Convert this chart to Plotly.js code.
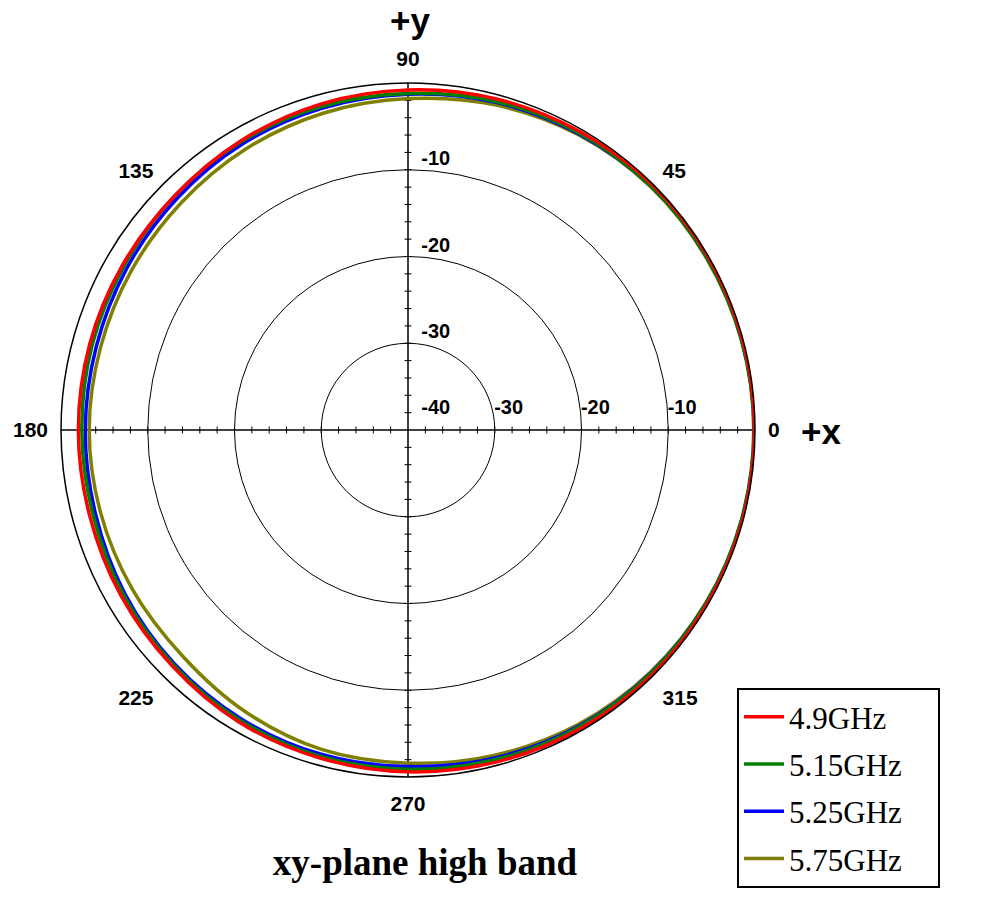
<!DOCTYPE html>
<html>
<head>
<meta charset="utf-8">
<script src="https://cdn.plot.ly/plotly-3.0.1.min.js"></script>
<style>html,body{margin:0;padding:0;background:#fff;}#chart{width:1000px;height:905px;}</style>
</head>
<body>
<div id="chart"></div>
<script>
// ---- data (dB vs. azimuth angle in degrees) ----
const angleDeg = [0,15,30,45,60,75,90,105,120,135,150,165,180,195,210,225,240,255,270,285,300,315,330,345];
const seriesNames = ["4.9GHz","5.15GHz","5.25GHz","5.75GHz"];
const seriesColors = ["#ff0000","#008000","#0000ff","#808000"];
const gain_4_9  = [-0.05,-0.05,-0.05,-0.1,-0.3,-0.5,-0.8,-1.1,-1.5,-1.9,-2.0,-2.0,-2.0,-2.0,-1.8,-1.55,-1.1,-0.85,-0.6,-0.4,-0.25,-0.15,-0.1,-0.05];
const gain_5_15 = [-0.1,-0.15,-0.2,-0.3,-0.5,-0.8,-1.2,-1.4,-1.6,-1.9,-2.2,-2.3,-2.4,-2.4,-2.1,-1.75,-1.35,-1.05,-0.9,-0.7,-0.5,-0.35,-0.25,-0.15];
const gain_5_25 = [-0.1,-0.15,-0.2,-0.3,-0.6,-0.9,-1.3,-1.6,-1.9,-2.3,-2.6,-2.8,-2.8,-2.7,-2.3,-1.9,-1.55,-1.3,-1.2,-0.9,-0.6,-0.4,-0.25,-0.15];
const gain_5_75 = [-0.15,-0.2,-0.3,-0.4,-0.7,-1.2,-1.8,-2.2,-2.6,-3.0,-3.2,-3.3,-3.25,-3.3,-3.3,-3.2,-2.5,-1.85,-1.6,-1.2,-0.8,-0.5,-0.3,-0.2];
const seriesValues = [gain_4_9, gain_5_15, gain_5_25, gain_5_75];

const radialRange = [-40, 0];
const ringTicks = [-30, -20, -10];
const xAxisLabelVals = [-40, -30, -20, -10];
const yAxisLabelVals = [-10, -20, -30];
const crossTickVals = [-38,-36,-34,-32,-30,-28,-26,-24,-22,-20,-18,-16,-14,-12,-10,-8,-6,-4,-2];
const angularTickVals = [0,45,90,135,180,225,270,315];
const angularTickText = ["0","45","90","135","180","225","270","315"];

const NB = "\u00a0";
function pad(n){ return NB.repeat(n); }

const traces = [];
// crosshair axes through the centre
traces.push({type:"scatterpolar", mode:"lines", r:[radialRange[1], radialRange[0], radialRange[1]], theta:[0,0,180],
  line:{color:"#000", width:1.5}, showlegend:false, hoverinfo:"skip"});
traces.push({type:"scatterpolar", mode:"lines", r:[radialRange[1], radialRange[0], radialRange[1]], theta:[90,90,270],
  line:{color:"#000", width:1.5}, showlegend:false, hoverinfo:"skip"});
// small tick marks along the crosshair
const hTheta = crossTickVals.map(()=>0).concat(crossTickVals.map(()=>180));
traces.push({type:"scatterpolar", mode:"markers", r:crossTickVals.concat(crossTickVals), theta:hTheta,
  marker:{symbol:"line-ns", size:5, line:{width:1, color:"#000"}}, showlegend:false, hoverinfo:"skip"});
const vTheta = crossTickVals.map(()=>90).concat(crossTickVals.map(()=>270));
traces.push({type:"scatterpolar", mode:"markers", r:crossTickVals.concat(crossTickVals), theta:vTheta,
  marker:{symbol:"line-ew", size:5, line:{width:1, color:"#000"}}, showlegend:false, hoverinfo:"skip"});

// data series (drawn so that 4.9GHz ends up on top)
for (let i = seriesNames.length - 1; i >= 0; i--) {
  traces.push({type:"scatterpolar", mode:"lines", name:seriesNames[i] + pad(4), legendgroup:"g"+i, legendrank:i+1,
    r: seriesValues[i].concat([seriesValues[i][0]]),
    theta: angleDeg.concat([360]),
    line:{color:seriesColors[i], width:3.5, shape:"spline"}});
}

// radial value labels along +x and +y
traces.push({type:"scatterpolar", mode:"markers+text", r:xAxisLabelVals, theta:xAxisLabelVals.map(()=>0),
  text:xAxisLabelVals.map(v => (v === -40 ? pad(10) : pad(5)) + String(v)),
  textposition:"top center", textfont:{family:"Liberation Sans, Arial", size:20, color:"#000", weight:"bold"},
  marker:{size:16, color:"rgba(0,0,0,0)"}, showlegend:false, hoverinfo:"skip", cliponaxis:false});
traces.push({type:"scatterpolar", mode:"text", r:yAxisLabelVals, theta:yAxisLabelVals.map(()=>90),
  text:yAxisLabelVals.map(v => pad(10) + String(v)),
  textposition:"top center", textfont:{family:"Liberation Sans, Arial", size:20, color:"#000", weight:"bold"},
  showlegend:false, hoverinfo:"skip", cliponaxis:false});

const layout = {
  width:1000, height:905,
  margin:{l:0, r:0, t:0, b:0},
  paper_bgcolor:"#fff",
  showlegend:true,
  polar:{
    domain:{x:[0.061, 0.755], y:[0.1414, 0.9083]},
    bgcolor:"#fff",
    radialaxis:{range:radialRange, tickvals:ringTicks, showticklabels:false, ticks:"",
      showline:false, showgrid:true, gridcolor:"#000", gridwidth:1},
    angularaxis:{rotation:0, direction:"counterclockwise", tickvals:angularTickVals, ticktext:angularTickText,
      showgrid:false, showline:true, linecolor:"#000", linewidth:1.5,
      ticks:"outside", ticklen:8, tickcolor:"rgba(0,0,0,0)",
      tickfont:{family:"Liberation Sans, Arial", size:21, color:"#000", weight:"bold"}}
  },
  title:{text:"<b>xy-plane high band</b>", x:0.425, xanchor:"center", y:1-862/905, yanchor:"middle", yref:"container",
    font:{family:"Liberation Serif, Times New Roman", size:37, color:"#000"}},
  annotations:[
    {text:"<b>+y</b>", xref:"paper", yref:"paper", x:0.41, y:1-21/905, showarrow:false, xanchor:"center", yanchor:"middle",
      font:{family:"Liberation Sans, Arial", size:35, color:"#000"}},
    {text:"<b>+x</b>", xref:"paper", yref:"paper", x:0.821, y:1-432/905, showarrow:false, xanchor:"center", yanchor:"middle",
      font:{family:"Liberation Sans, Arial", size:35, color:"#000"}}
  ],
  legend:{x:0.737, y:1-688/905, xanchor:"left", yanchor:"top", bgcolor:"#fff", bordercolor:"#000", borderwidth:2,
    traceorder:"grouped", tracegroupgap:4, itemwidth:40,
    font:{family:"Liberation Serif, Times New Roman", size:31, color:"#000"}}
};

Plotly.newPlot("chart", traces, layout, {displayModeBar:false, staticPlot:true});
</script>
</body>
</html>
